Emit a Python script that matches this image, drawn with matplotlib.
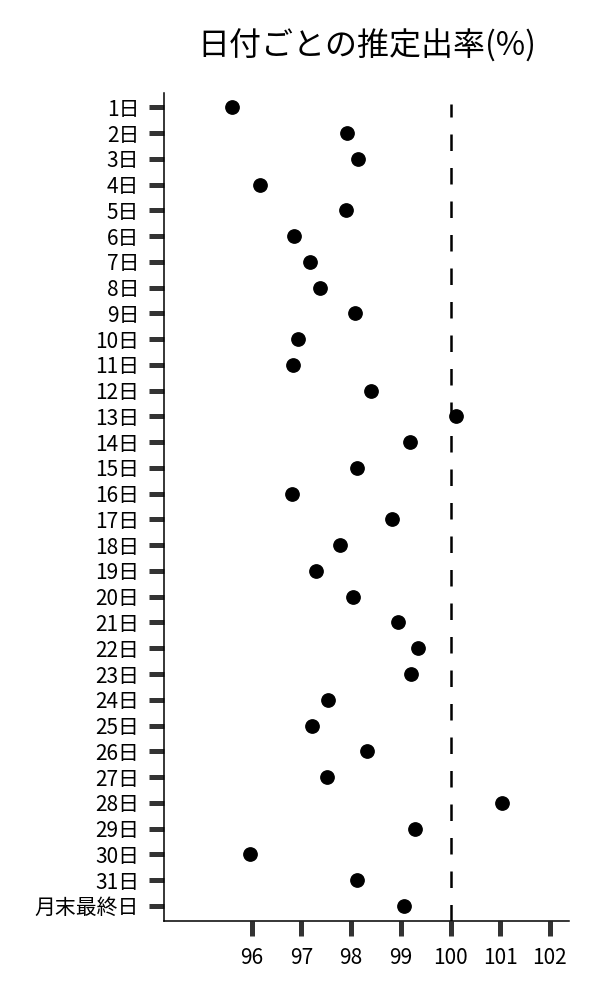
import matplotlib
matplotlib.use("Agg")
import matplotlib.pyplot as plt

plt.rcParams['font.family'] = ['Noto Sans CJK JP', 'DejaVu Sans']

# 日付ラベルと推定出率
days = [f"{d}日" for d in range(1, 32)] + ["月末最終日"]
rates = [95.61, 97.92, 98.13, 96.16, 97.90, 96.86, 97.17, 97.37, 98.07, 96.94,
         96.84, 98.40, 100.12, 99.18, 98.11, 96.81, 98.83, 97.77, 97.30, 98.03,
         98.95, 99.35, 99.20, 97.53, 97.22, 98.32, 97.51, 101.03, 99.28, 95.96,
         98.11, 99.07]
x_ticks = [96, 97, 98, 99, 100, 101, 102]
ref_line = 100

fig = plt.figure(figsize=(6, 10), dpi=100)
ax = fig.add_axes([0.2738, 0.079, 0.675, 0.8283])

y_pos = list(range(len(days)))
ax.plot(rates, y_pos, "o", color="black", markersize=9.6, zorder=3)
ax.axvline(ref_line, ymax=0.986, color="black", linewidth=1.8,
           linestyle=(0, (6.6, 6.8)), zorder=2)

ax.set_xlim(94.24, 102.39)
ax.set_ylim(31.59, -0.57)
ax.set_xticks(x_ticks)
ax.set_xticklabels([str(t) for t in x_ticks])
ax.set_yticks(y_pos)
ax.set_yticklabels(days)

for side in ["top", "right"]:
    ax.spines[side].set_visible(False)
for side in ["left", "bottom"]:
    ax.spines[side].set_linewidth(1.1)
    ax.spines[side].set_color("black")

ax.tick_params(axis="both", length=10.5, width=3.6, color="#333333",
               labelsize=15, labelcolor="black")
ax.tick_params(axis="x", pad=8)
ax.tick_params(axis="y", pad=7.5)

ax.set_title("日付ごとの推定出率(%)", fontsize=23, pad=27)

fig.savefig("out.png", dpi=100)
